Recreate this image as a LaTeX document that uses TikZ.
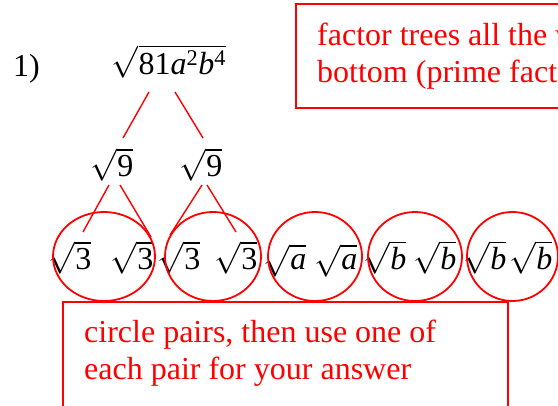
\RequirePackage{fix-cm}
\documentclass[tikz,border=0pt]{standalone}
\usepackage{amsmath}
\usepackage{fontspec}
\setmainfont{Liberation Serif}
\usetikzlibrary{calc}

\begin{document}
\begin{tikzpicture}[
  x=1pt, y=-1pt,
  font=\fontsize{32}{36.5}\selectfont,
  term/.style={anchor=base, inner sep=0pt},
  branch/.style={draw=cnote, line width=1.4pt},
  pairring/.style={draw=cnote, line width=1.8pt},
  notebox/.style={draw=cnote, line width=2.2pt},
  notetext/.style={anchor=north west, inner sep=0pt, align=left, text=cnote},
]
\definecolor{cnote}{HTML}{FF0000}
% ---------------- page frame ----------------
\useasboundingbox (0,0) rectangle (558,406);
\clip (0,0) rectangle (558,406);

% =====================================================================
% problem number + radicand
% =====================================================================
\node[anchor=base west, inner sep=0pt] (num) at (13,77) {1)};
\node[term] (root) at (169,75)
  {$\sqrt{\text{81}\mathit{a}^{\text{2}}\mathit{b}^{\text{4}}}$};

% =====================================================================
% factor tree
% =====================================================================
\node[term] (nineA) at (112,177) {$\sqrt{\text{9}}$};
\node[term] (nineB) at (201,177) {$\sqrt{\text{9}}$};

\foreach \name/\cx/\arg in {l1/70/\text{3}, l2/132/\text{3},
    l3/179/\text{3}, l4/236/\text{3},
    l5/285/\mathit{a}, l6/336/\mathit{a}, l7/385/\mathit{b},
    l8/435/\mathit{b}, l9/485/\mathit{b}, l10/531/\mathit{b}} {
  \node[term] (\name) at (\cx,270) {$\sqrt{\arg}$};
}

\draw[branch] ($(root.base)+(-20,17)$) -- ($(nineA.base)+(11,-39)$);
\draw[branch] ($(root.base)+(6,17)$) -- ($(nineB.base)+(2,-39)$);
\draw[branch] ($(nineA.base)+(-3,8)$) -- ($(l1.base)+(13,-38)$);
\draw[branch] ($(nineA.base)+(8,8)$) -- ($(l2.base)+(19,-33)$);
\draw[branch] ($(nineB.base)+(1,8)$) -- ($(l3.base)+(-9,-35)$);
\draw[branch] ($(nineB.base)+(6,8)$) -- ($(l4.base)+(0,-38)$);

% circled pairs
\foreach \cx/\rx in {104/51, 213/48, 315/47, 415/47, 512.5/45.5} {
  \draw[pairring] (\cx,256.5) ellipse [x radius=\rx, y radius=44.5];
}

% =====================================================================
% notes (run off the page)
% =====================================================================
\draw[notebox] (296,4) rectangle (640,108);
\node[notetext] (treenote) at (317,23)
  {factor trees all the way to the\\bottom (prime factors)};

\draw[notebox] (63,302) rectangle (508,460);
\node[notetext] (pairnote) at (84,320)
  {circle pairs, then use one of\\each pair for your answer};

\end{tikzpicture}
\end{document}
